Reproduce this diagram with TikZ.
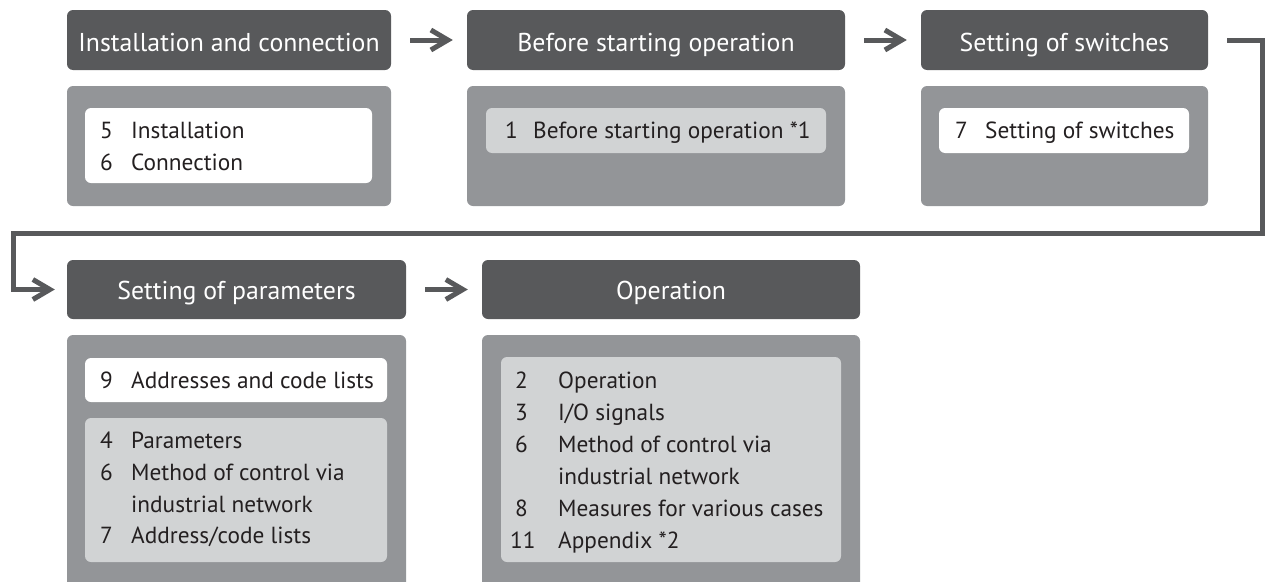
\documentclass[tikz,border=0pt]{standalone}
\usepackage{fontspec}
\setmainfont{PT Sans}
\usetikzlibrary{arrows.meta}
\definecolor{hdrdark}{HTML}{58595B}
\definecolor{bodygray}{HTML}{939598}
\definecolor{lightgray}{HTML}{D1D3D4}
\definecolor{txtdark}{HTML}{231F20}
\tikzset{
  box/.style={rectangle, rounded corners=6pt, inner sep=0pt, draw=none},
  hdr/.style={box, fill=hdrdark, minimum height=60pt},
  body/.style={box, fill=bodygray},
  whitebox/.style={box, fill=white},
  lightbox/.style={box, fill=lightgray},
  hdrtxt/.style={anchor=base, inner sep=0pt, text=white, font=\fontsize{25.8pt}{30pt}\selectfont},
  itemtxt/.style={anchor=base west, inner sep=0pt, text=txtdark, font=\fontsize{23.3pt}{28pt}\selectfont},
  flow/.style={draw=hdrdark, line width=5pt, -{Straight Barb[length=17pt,width=20pt]}},
}
\newcommand\itemline[6]{%
  \node[itemtxt] (#1n) at (#2,#4) {#5};
  \node[itemtxt] (#1t) at (#3,#4) {#6};}
\begin{document}
\begin{tikzpicture}[x=1pt,y=-1pt]
\useasboundingbox (0,0) rectangle (1265,581);
\clip (0,0) rectangle (1265,581);
% top row
\node[hdr, minimum width=324pt] (h1) at (229,40) {};
\node[hdrtxt] (h1t) at (229,51) {Installation and connection};
\node[body, minimum width=324pt, minimum height=120pt] (b1) at (229,146) {};
\node[whitebox, minimum width=287pt, minimum height=75pt] (i1) at (228.5,145.5) {};
\itemline{a1}{100}{131}{138}{5}{Installation}
\itemline{a2}{100}{131}{170}{6}{Connection}

\node[hdr, minimum width=378pt] (h2) at (656,40) {};
\node[hdrtxt] (h2t) at (656,51) {Before starting operation};
\node[body, minimum width=378pt, minimum height=120pt] (b2) at (656,146) {};
\node[lightbox, minimum width=340pt, minimum height=45pt] (i2) at (656,130.5) {};
\itemline{c1}{505}{533}{138}{1}{Before starting operation *1}

\node[hdr, minimum width=287pt] (h3) at (1064.5,40) {};
\node[hdrtxt] (h3t) at (1064.5,51) {Setting of switches};
\node[body, minimum width=287pt, minimum height=120pt] (b3) at (1064.5,146) {};
\node[whitebox, minimum width=250pt, minimum height=45pt] (i3) at (1064,130.5) {};
\itemline{d1}{955}{985}{138}{7}{Setting of switches}

% bottom row
\node[hdr, minimum width=339pt, minimum height=59pt] (h4) at (236.5,289.5) {};
\node[hdrtxt] (h4t) at (236.5,299) {Setting of parameters};
\node[body, minimum width=339pt, minimum height=255pt] (b4) at (236.5,462.5) {};
\node[whitebox, minimum width=302pt, minimum height=44pt] (i4a) at (236,380) {};
\node[lightbox, minimum width=302pt, minimum height=144pt] (i4b) at (236,490) {};
\itemline{e1}{100}{131}{388}{9}{Addresses and code lists}
\itemline{f1}{100}{131}{448}{4}{Parameters}
\itemline{f2}{100}{131}{480}{6}{Method of control via}
\node[itemtxt] (f3t) at (131,512) {industrial network};
\itemline{f4}{100}{131}{543}{7}{Address/code lists}

\node[hdr, minimum width=378pt, minimum height=59pt] (h5) at (671,289.5) {};
\node[hdrtxt] (h5t) at (671,299) {Operation};
\node[body, minimum width=378pt, minimum height=255pt] (b5) at (671,462.5) {};
\node[lightbox, minimum width=340pt, minimum height=205pt] (i5) at (671,459.5) {};
\itemline{g1}{515}{558}{388}{2}{Operation}
\itemline{g2}{515}{558}{420}{3}{I/O signals}
\itemline{g3}{515}{558}{452}{6}{Method of control via}
\node[itemtxt] (g4t) at (558,484) {industrial network};
\itemline{g5}{515}{558}{516}{8}{Measures for various cases}
\itemline{g6}{510}{558}{548}{11}{Appendix *2}

% connectors
\draw[flow] ([xshift=19pt]h1.east) -- ([xshift=-14pt]h2.west);
\draw[flow] ([xshift=19pt]h2.east) -- ([xshift=-14pt]h3.west);
\coordinate (t1) at (1262,233);
\coordinate (t2) at (13,233);
\draw[flow, line join=miter] ([xshift=19pt]h3.east) -| (t1) -- (t2) |- ([xshift=-12pt]h4.west);
\draw[flow] ([xshift=19pt]h4.east) -- ([xshift=-14pt]h5.west);
\end{tikzpicture}
\end{document}
